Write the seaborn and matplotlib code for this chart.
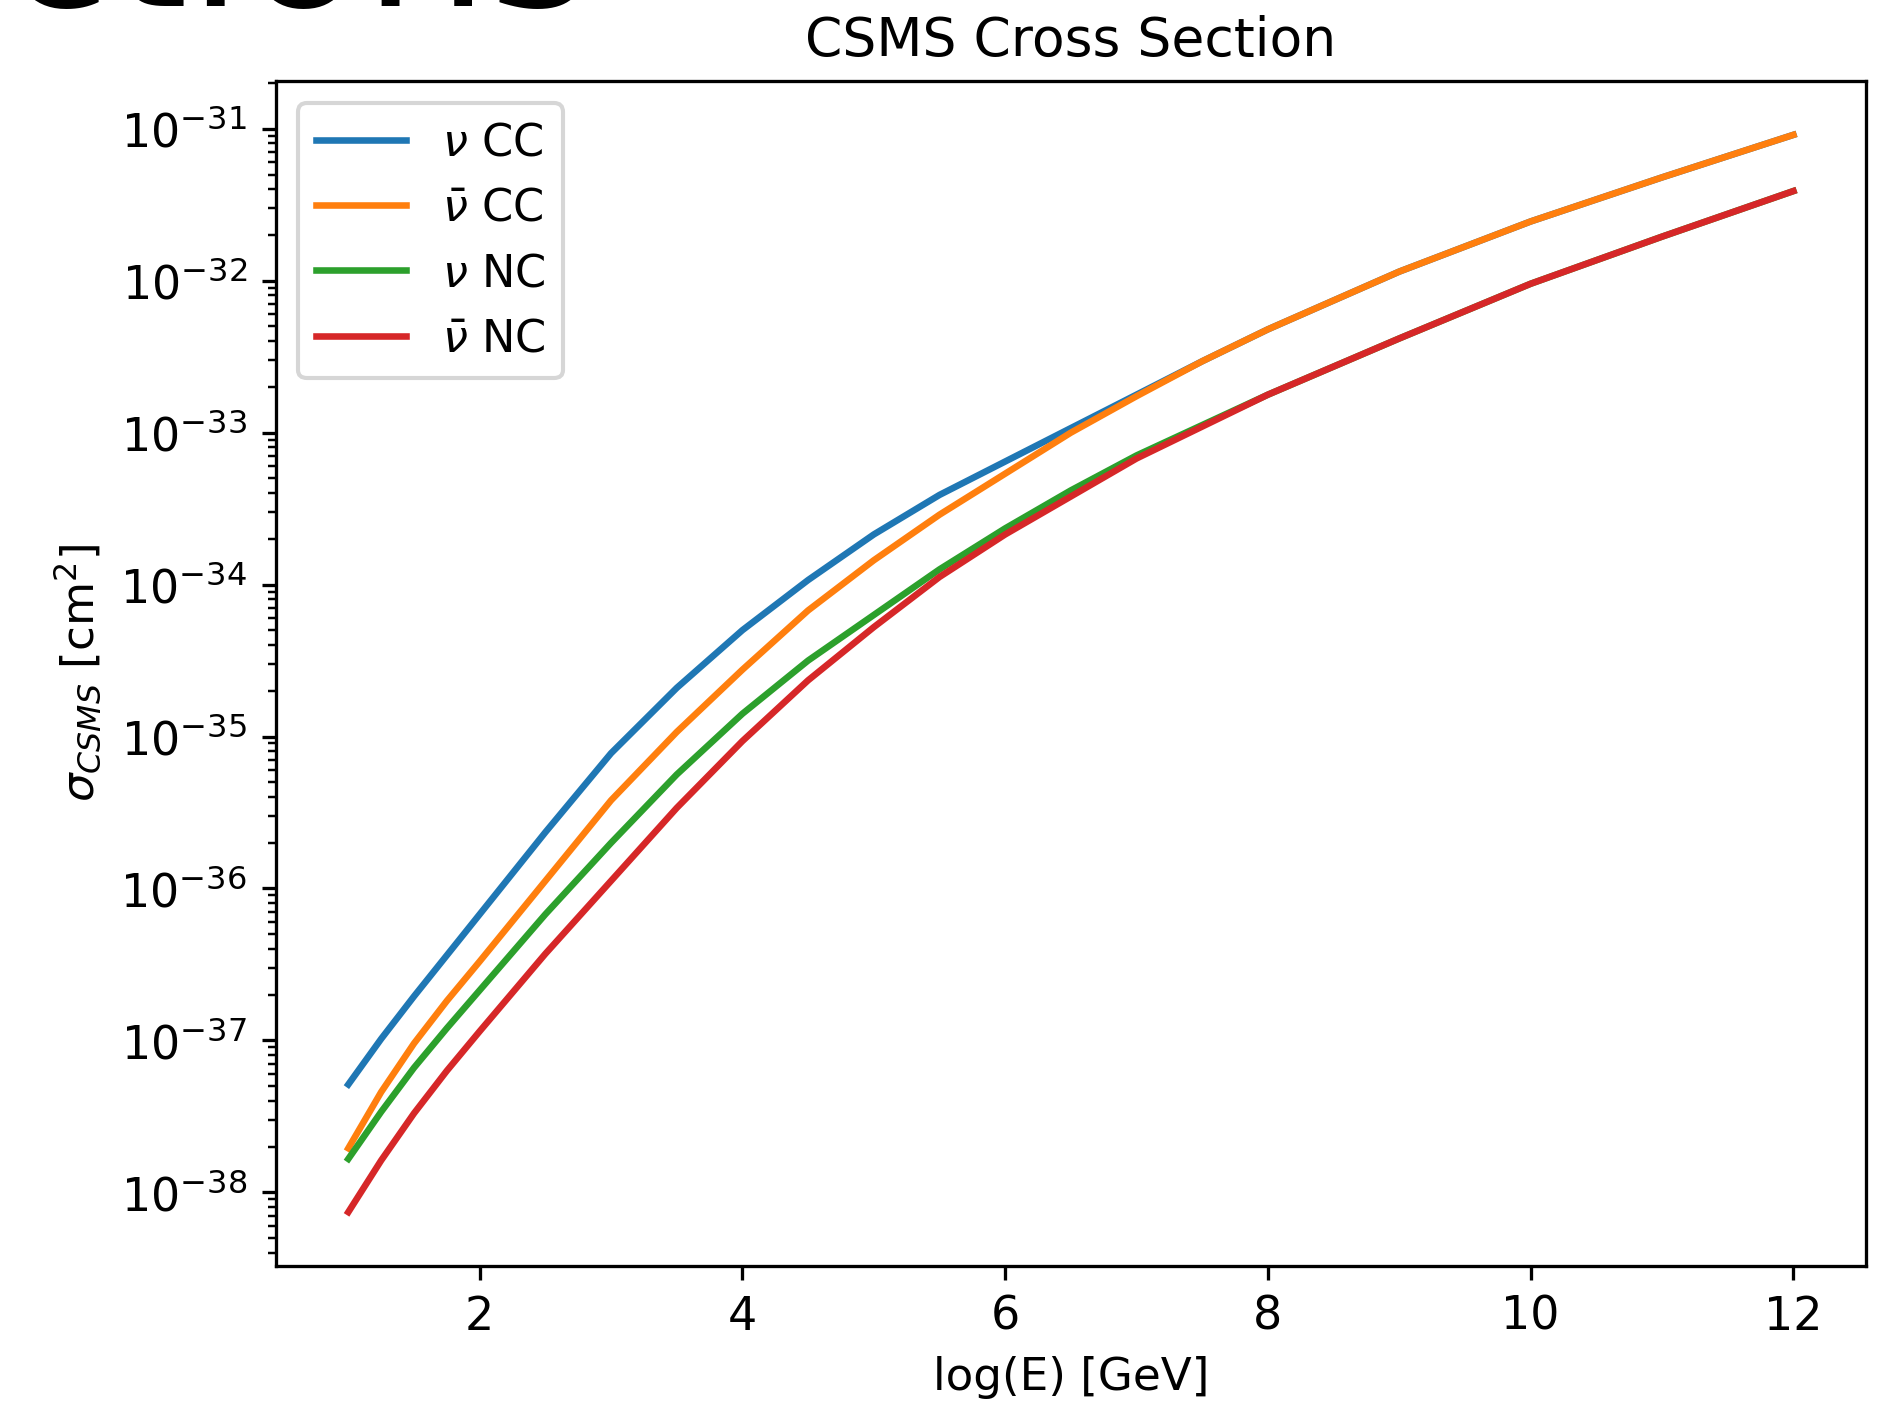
import numpy as np
import pandas as pd
import matplotlib
matplotlib.use("Agg")
import matplotlib.pyplot as plt
import seaborn as sns

# log10(E/GeV) sample points
logE = [1.0, 1.25, 1.5, 1.75, 2.0, 2.5, 3.0, 3.5, 4.0, 4.5, 5.0, 5.5, 6.0, 6.5, 7.0, 7.5, 8.0, 9.0, 10.0, 11.0, 12.0]

# log10(sigma / cm^2)
nu_cc =    [-37.29, -36.99, -36.71, -36.44, -36.17, -35.63, -35.11, -34.68, -34.30, -33.97, -33.67, -33.41, -33.19, -32.97, -32.75, -32.53, -32.32, -31.94, -31.61, -31.32, -31.04]
nubar_cc = [-37.71, -37.34, -37.02, -36.74, -36.48, -35.95, -35.42, -34.97, -34.56, -34.17, -33.84, -33.54, -33.27, -33.00, -32.76, -32.53, -32.32, -31.94, -31.61, -31.32, -31.04]
nu_nc =    [-37.78, -37.47, -37.18, -36.92, -36.67, -36.17, -35.70, -35.25, -34.85, -34.50, -34.20, -33.90, -33.63, -33.38, -33.15, -32.95, -32.75, -32.38, -32.02, -31.71, -31.41]
nubar_nc = [-38.13, -37.79, -37.48, -37.20, -36.94, -36.43, -35.95, -35.47, -35.03, -34.63, -34.28, -33.95, -33.67, -33.42, -33.17, -32.96, -32.75, -32.38, -32.02, -31.71, -31.41]

labels = [r"$\nu$ CC", r"$\bar{\nu}$ CC", r"$\nu$ NC", r"$\bar{\nu}$ NC"]
series = [nu_cc, nubar_cc, nu_nc, nubar_nc]
colors = ["#1f77b4", "#ff7f0e", "#2ca02c", "#d62728"]

rows = []
for lab, vals in zip(labels, series):
    for x, v in zip(logE, vals):
        rows.append({"logE": x, "sigma": 10.0 ** v, "kind": lab})
df = pd.DataFrame(rows)

plt.rcParams["font.family"] = ["DejaVu Sans"]
plt.rcParams["font.size"] = 11
dpi = 296
fig = plt.figure(figsize=(1896 / dpi, 1411 / dpi), dpi=dpi)
ax = fig.add_axes([0.1456, 0.1028, 0.984 - 0.1456, 0.9426 - 0.1028])

sns.lineplot(data=df, x="logE", y="sigma", hue="kind", hue_order=labels,
             palette=colors, linewidth=1.6, ax=ax, sort=False)
ax.set_yscale("log")
ax.set_xlabel("log(E) [GeV]", fontsize=11.0)
ax.set_ylabel(r"$\sigma_{CSMS}$ [cm$^2$]", fontsize=11.0)
ax.set_title("CSMS Cross Section", fontsize=13)
ax.set_xticks([2, 4, 6, 8, 10, 12])
ax.tick_params(labelsize=11.2)
ax.legend(loc="upper left", title=None, fontsize=10.9)

fig.text(0.312, 0.996, "Cross Sections", fontsize=48, ha="right", va="baseline")

fig.savefig("out.png", dpi=dpi)
